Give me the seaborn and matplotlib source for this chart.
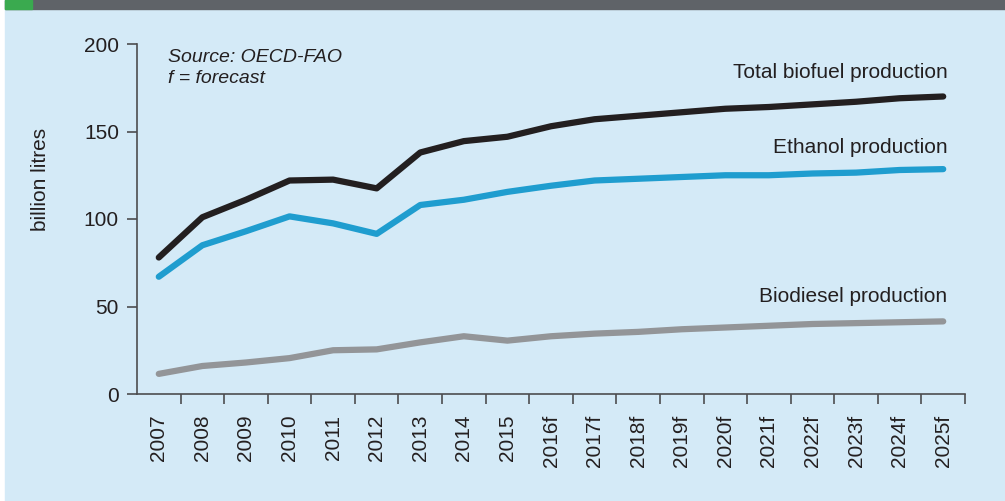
"""
Biofuel production 2007-2025f (OECD-FAO) - recreated with seaborn.
"""
import numpy as np
import pandas as pd
import matplotlib
matplotlib.use("Agg")
import matplotlib.pyplot as plt
from matplotlib.patches import Rectangle
from matplotlib.ticker import FixedLocator
import seaborn as sns

# ── Data ───────────────────────────────────────────────────────────────────
years = ["2007", "2008", "2009", "2010", "2011", "2012", "2013", "2014", "2015",
         "2016f", "2017f", "2018f", "2019f", "2020f", "2021f", "2022f", "2023f",
         "2024f", "2025f"]
total = [78, 101, 111, 122, 122.5, 117.5, 138, 144.5, 147, 153, 157, 159, 161,
         163, 164, 165.5, 167, 169, 170]
ethanol = [67, 85, 93, 101.5, 97.5, 91.5, 108, 111, 115.5, 119, 122, 123, 124,
           125, 125, 126, 126.5, 128, 128.5]
biodiesel = [11.5, 16, 18, 20.5, 25, 25.5, 29.5, 33, 30.5, 33, 34.5, 35.5, 37,
             38, 39, 40, 40.5, 41, 41.5]

series = {
    "Total biofuel production": (total, "#231f20"),
    "Ethanol production": (ethanol, "#1f9dcf"),
    "Biodiesel production": (biodiesel, "#939598"),
}
label_y = {"Total biofuel production": 184, "Ethanol production": 141,
           "Biodiesel production": 56}

BG = "#d4eaf7"
INK = "#231f20"
AXC = "#4d4d4f"

sns.set_theme(style="ticks")
plt.rcParams["font.family"] = ["Liberation Sans", "DejaVu Sans"]

df = pd.DataFrame({"pos": np.arange(len(years)), "Year": years,
                   "Total biofuel production": total,
                   "Ethanol production": ethanol,
                   "Biodiesel production": biodiesel})

# ── Figure ─────────────────────────────────────────────────────────────────
fig = plt.figure(figsize=(10.05, 5.01), dpi=100)
fig.patch.set_facecolor("white")
fig.patches.append(Rectangle((5 / 1005, 0), 1, 1, transform=fig.transFigure,
                             color=BG, zorder=-10))
fig.patches.append(Rectangle((5 / 1005, 1 - 9 / 501), 1, 9 / 501,
                             transform=fig.transFigure, color="#5f6368", zorder=-5))
fig.patches.append(Rectangle((5 / 1005, 1 - 9 / 501), 27 / 1005, 9 / 501,
                             transform=fig.transFigure, color="#3aaa4f", zorder=-4))

ax = fig.add_axes([137 / 1005, 1 - 394 / 501, (965 - 137) / 1005, (394 - 44) / 501])
ax.set_facecolor("none")

for name, (vals, col) in series.items():
    sns.lineplot(data=df, x="pos", y=name, ax=ax, color=col, lw=4.5,
                 solid_capstyle="round", solid_joinstyle="round", zorder=3)
    ax.text(len(years) - 0.9, label_y[name], name, ha="right", va="center",
            fontsize=15, color=INK)

ax.set_xlim(-0.5, len(years) - 0.5)
ax.set_ylim(0, 200)
ax.set_yticks([0, 50, 100, 150, 200])
ax.set_xticks(df["pos"])
ax.set_xticklabels(years, rotation=90, fontsize=15, color=INK)
ax.xaxis.set_minor_locator(FixedLocator(np.arange(0.5, len(years), 1)))
ax.tick_params(axis="x", which="major", length=0, pad=15)
ax.tick_params(axis="x", which="minor", length=7, width=1.2, color=AXC)
ax.tick_params(axis="y", length=7, width=1.2, color=AXC, labelsize=15,
               labelcolor=INK, pad=6)
ax.set_xlabel("")
ax.set_ylabel("billion litres", fontsize=15, color=INK)
ax.yaxis.set_label_coords(-0.105, 0.614)
for s in ["top", "right"]:
    ax.spines[s].set_visible(False)
for s in ["left", "bottom"]:
    ax.spines[s].set_color(AXC)
    ax.spines[s].set_linewidth(1.2)

ax.text(0.2, 197, "Source: OECD-FAO\nf = forecast", ha="left", va="top",
        fontsize=14, style="italic", color=INK, linespacing=1.3)

fig.savefig("out.png", dpi=100)
